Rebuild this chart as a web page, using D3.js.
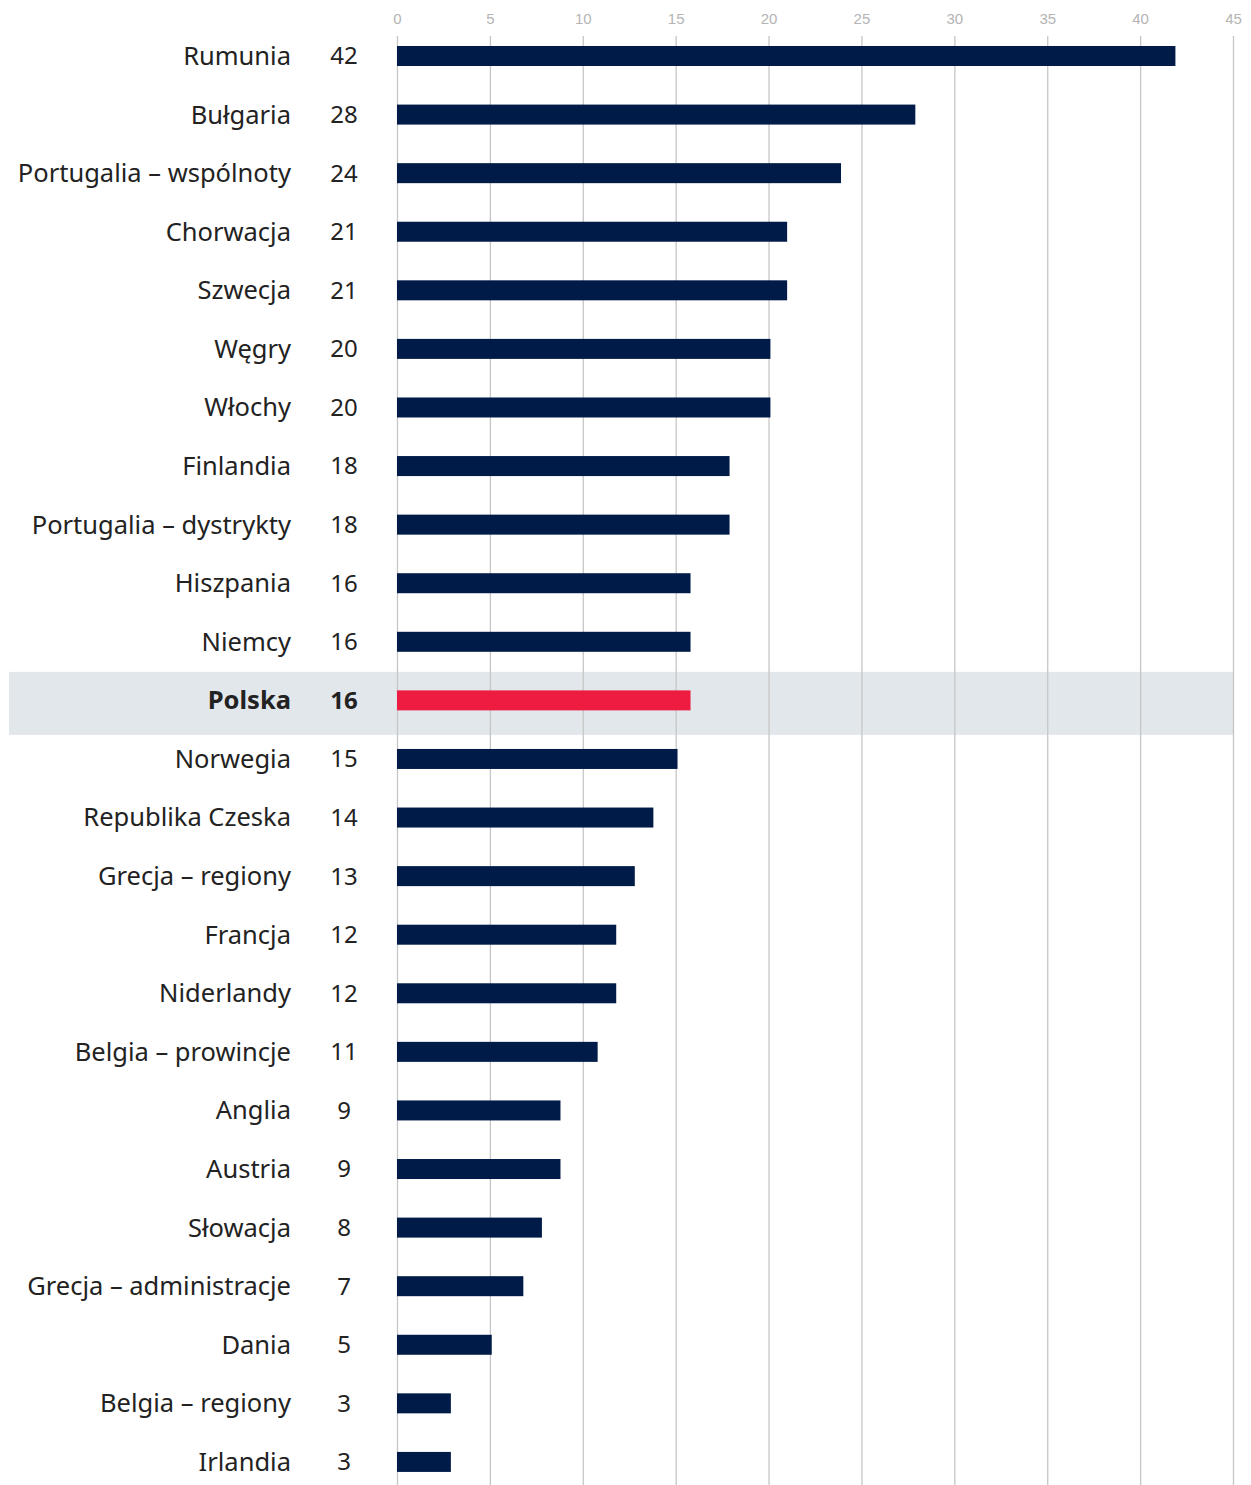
<!DOCTYPE html>
<html>
<head>
<meta charset="utf-8">
<script src="https://cdn.jsdelivr.net/npm/d3@7"></script>
<style>
  body { margin: 0; background: #fff; }
  .lbl { font-family: "Noto Sans", sans-serif; font-size: 24px; fill: #222; }
  .name { font-size: 25.5px; }
  .tick text { font-family: "Liberation Sans", Arial, sans-serif; font-size: 15px; fill: #b4b4b4; }
</style>
</head>
<body>
<div id="chart"></div>
<script>
// chart data
var countries = ["Rumunia", "Bułgaria", "Portugalia – wspólnoty", "Chorwacja", "Szwecja",
  "Węgry", "Włochy", "Finlandia", "Portugalia – dystrykty", "Hiszpania", "Niemcy",
  "Polska", "Norwegia", "Republika Czeska", "Grecja – regiony", "Francja", "Niderlandy",
  "Belgia – prowincje", "Anglia", "Austria", "Słowacja", "Grecja – administracje",
  "Dania", "Belgia – regiony", "Irlandia"];
var values = [41.9, 27.9, 23.9, 21.0, 21.0, 20.1, 20.1, 17.9, 17.9, 15.8, 15.8,
  15.8, 15.1, 13.8, 12.8, 11.8, 11.8, 10.8, 8.8, 8.8, 7.8, 6.8, 5.1, 2.9, 2.9];
var ticks = [0, 5, 10, 15, 20, 25, 30, 35, 40, 45];
var highlight = "Polska";

var width = 1251;
var height = 1485;

var data = countries.map(function(c, i) {
  return { name: c, value: values[i] };
});

var svg = d3.select("#chart")
  .append("svg")
  .attr("width", width)
  .attr("height", height);

var xScale = d3.scaleLinear().domain([0, 45]).range([397, 1233]);
var step = 58.58;
var yScale = d3.scaleBand()
  .domain(countries)
  .range([56 - step / 2, 56 - step / 2 + step * countries.length]);

var barH = 20;

// highlight band behind Polska
svg.append("rect")
  .attr("x", 9)
  .attr("y", yScale(highlight) + yScale.bandwidth() / 2 - 28.5)
  .attr("width", xScale(45) - 9)
  .attr("height", 63)
  .attr("fill", "#e2e7ec");

// grid and top labels
var xAxis = d3.axisTop(xScale)
  .tickValues(ticks)
  .tickSize(-(height - 36))
  .tickFormat(d3.format("d"));

var gx = svg.append("g")
  .attr("transform", "translate(0,36)")
  .call(xAxis);
gx.select(".domain").remove();
gx.selectAll(".tick line").attr("stroke", "#c6c6c6").attr("stroke-width", 1.3);
gx.selectAll(".tick text").attr("y", -12).attr("dy", "0");

// bars
svg.selectAll(".bar")
  .data(data)
  .enter()
  .append("rect")
  .attr("class", "bar")
  .attr("x", xScale(0))
  .attr("y", function(d) { return yScale(d.name) + yScale.bandwidth() / 2 - barH / 2; })
  .attr("width", function(d) { return xScale(d.value) - xScale(0); })
  .attr("height", barH)
  .attr("fill", function(d) { return d.name === highlight ? "#ed1c40" : "#001b47"; });

// country names
svg.selectAll(".name")
  .data(data)
  .enter()
  .append("text")
  .attr("class", "lbl name")
  .attr("x", 291)
  .attr("y", function(d) { return yScale(d.name) + yScale.bandwidth() / 2; })
  .attr("dy", "0.35em")
  .attr("text-anchor", "end")
  .attr("font-weight", function(d) { return d.name === highlight ? "bold" : "normal"; })
  .text(function(d) { return d.name; });

// value labels
svg.selectAll(".val")
  .data(data)
  .enter()
  .append("text")
  .attr("class", "lbl val")
  .attr("x", 344)
  .attr("y", function(d) { return yScale(d.name) + yScale.bandwidth() / 2; })
  .attr("dy", "0.35em")
  .attr("text-anchor", "middle")
  .attr("font-weight", function(d) { return d.name === highlight ? "bold" : "normal"; })
  .text(function(d) { return d3.format(".0f")(d.value); });
</script>
</body>
</html>
